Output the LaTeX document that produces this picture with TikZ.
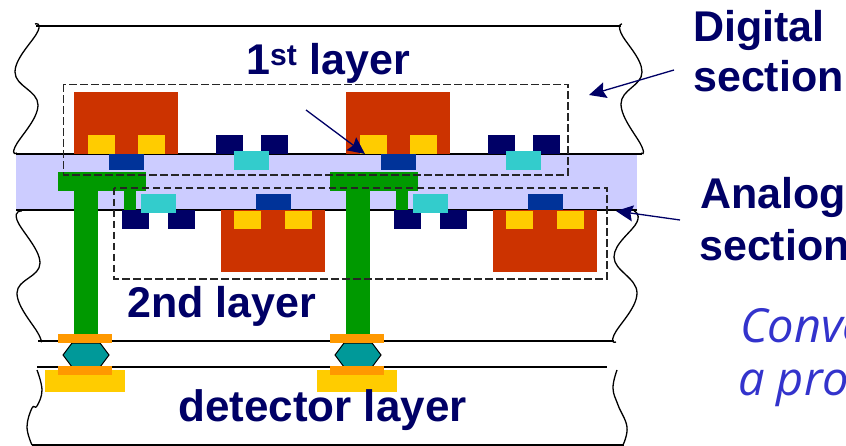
\documentclass[tikz,border=0pt]{standalone}
\usepackage{fontspec}
\setmainfont{Liberation Sans}
\newfontfamily\notefont{Open Sans}
\usetikzlibrary{positioning,calc}
\usetikzlibrary{arrows.meta}
\definecolor{ChipNavy}{RGB}{0,0,102}
\definecolor{ChipRed}{RGB}{204,51,0}
\definecolor{ChipYellow}{RGB}{255,204,0}
\definecolor{ChipCyan}{RGB}{51,204,204}
\definecolor{ChipBlue}{RGB}{0,51,153}
\definecolor{ChipGreen}{RGB}{0,153,0}
\definecolor{ChipOrange}{RGB}{255,153,0}
\definecolor{ChipTeal}{RGB}{0,153,153}
\definecolor{BondBand}{RGB}{204,204,255}
\definecolor{NoteBlue}{RGB}{51,51,204}
\tikzset{
	layerline/.style={draw=black,line width=1.6pt},
	wavy/.style={draw=black,line width=1.3pt},
	section/.style={draw=black!85,line width=1.4pt,dash pattern=on 7.5pt off 3.5pt},
	pointer/.style={draw=ChipNavy,line width=1.3pt,-{Stealth[length=17pt,width=16pt,inset=2.5pt]}},
	title/.style={inner sep=0pt,anchor=base west,text=ChipNavy,font=\bfseries\fontsize{43}{43}\selectfont},
	note/.style={inner sep=0pt,anchor=base west,text=NoteBlue,font=\notefont\itshape\fontsize{47}{47}\selectfont},
}

\begin{document}
\begin{tikzpicture}[x=1pt,y=-1pt]
	\clip (0,0) rectangle (846,446);
	\fill[white] (0,0) rectangle (846,446);
	% bonding band and layer outlines
	\fill[BondBand] (16,155) rectangle (637,210);
	\draw[layerline] (36,26)--(621,26);
	\draw[layerline] (16,154)--(642,154);
	\draw[layerline] (16,210)--(637,210);
	\draw[layerline,line width=1.2pt] (38,341)--(614,341);
	\draw[layerline,line width=1.2pt] (37,367)--(607,367);
	\draw[layerline,line width=1.2pt] (32,445)--(624,445);
	\draw[wavy] plot[smooth,tension=0.7] coordinates {(35,24) (38,31) (15,72) (38,105) (15,147) (17,153)};
	\draw[wavy] plot[smooth,tension=0.7] coordinates {(622,24) (621,33) (642,72) (621,104) (642,147) (641,153)};
	\draw[wavy] plot[smooth,tension=0.7] coordinates {(22,211) (17,220) (40,263) (17,293) (39,335) (40,341)};
	\draw[wavy] plot[smooth,tension=0.7] coordinates {(634,211) (637,222) (614,257) (637,293) (614,335) (616,342)};
	\draw[wavy] plot[smooth,tension=0.7] coordinates {(37,370) (42,390) (37,406) (32,408) (27,427) (32,445)};
	\draw[wavy] plot[smooth,tension=0.7] coordinates {(617,370) (613,388) (618,405) (627,427) (623,445)};
	% the two repeated columns
	\foreach \dx in {0,272} {
		\begin{scope}[xshift=\dx pt]
			\fill[ChipRed] (74,92) rectangle (178,154);
			\fill[ChipYellow] (88,135) rectangle (115,154);
			\fill[ChipYellow] (138,135) rectangle (165,154);
			\fill[ChipNavy] (216,135) rectangle (243,154);
			\fill[ChipNavy] (261,135) rectangle (288,154);
			\fill[ChipCyan] (234,151) rectangle (269,170);
			\fill[ChipBlue] (109,154) rectangle (144,170);
			\fill[ChipRed] (221,210) rectangle (325,272);
			\fill[ChipYellow] (234,211) rectangle (261,229);
			\fill[ChipYellow] (285,211) rectangle (312,229);
			\fill[ChipNavy] (122,210) rectangle (149,229);
			\fill[ChipNavy] (168,210) rectangle (195,229);
			\fill[ChipBlue] (256,194) rectangle (291,210);
			\fill[ChipGreen] (58,172) rectangle (146,191);
			\fill[ChipGreen] (74,191) rectangle (98,334);
			\fill[ChipGreen] (124,191) rectangle (136,210);
			\fill[ChipCyan] (141,194) rectangle (176,213);
			\draw[fill=ChipTeal,draw=black,line width=1pt] (63,355)--(72,343)--(100,343)--(109,355)--(100,367)--(72,367)--cycle;
			\fill[ChipYellow] (45,370) rectangle (125,392);
			\fill[ChipOrange] (58,334) rectangle (112,343);
			\fill[ChipOrange] (58,366) rectangle (112,375);
		\end{scope}
	}
	% dashed sections
	\draw[section] (63.5,84.5) rectangle (568,175);
	\draw[section] (114,188) rectangle (607,279);
	% labels
	\node[title] (firstlabel) at (246,75) {1\textsuperscript{st} layer};
	\node[title] (secondlabel) at (127,318) {2nd layer};
	\node[title,font=\bfseries\fontsize{44}{44}\selectfont] (detectorlabel) at (178,421) {detector layer};
	\node[title] (digitallabel) at (693,42) {Digital};
	\node[title] (digitalsection) at (693,92) {section};
	\node[title] (analoglabel) at (700,209) {Analog};
	\node[title] (analogsection) at (699,261) {section};
	\node[note] (notefirst) at (740,342) {Conve};
	\node[note] (notesecond) at (738,395) {a pro};
	% pointers
	\coordinate (viastart) at (306,110);
	\coordinate (viaend) at (365,154);
	\coordinate (digitalstart) at (674,70);
	\coordinate (digitalend) at (589,95);
	\coordinate (analogstart) at (680,220);
	\coordinate (analogend) at (616,211);
	\draw[pointer] (viastart)--(viaend);
	\draw[pointer] (digitalstart)--(digitalend);
	\draw[pointer] (analogstart)--(analogend);
\end{tikzpicture}
\end{document}
